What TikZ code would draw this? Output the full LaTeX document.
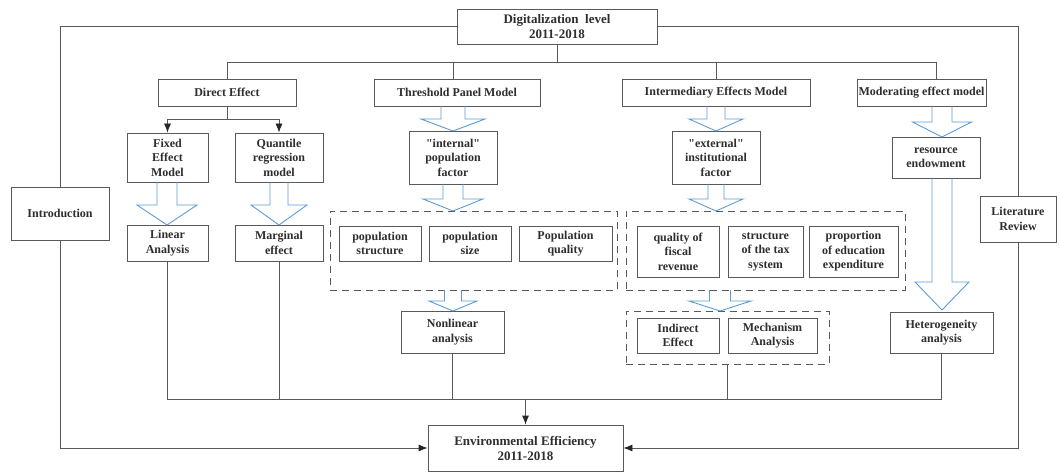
\documentclass[tikz,border=0pt]{standalone}
\usepackage{fontspec}
\setmainfont{Liberation Serif}
\usetikzlibrary{arrows.meta}
\definecolor{linec}{HTML}{595959}
\definecolor{textc}{HTML}{2E2E2E}
\definecolor{bluec}{HTML}{5B9BD5}
\tikzset{
  box/.style={draw=linec, line width=0.8pt, fill=white, align=center, inner sep=1pt,
    font=\bfseries\fontsize{12}{14.5}\selectfont, text=textc},
  bigbox/.style={box, font=\bfseries\fontsize{13}{15}\selectfont},
  dbox/.style={draw=linec, line width=0.8pt, dash pattern=on 7pt off 5pt},
  conn/.style={draw=linec, line width=0.8pt},
  tip/.style={conn, -{Latex[length=9pt,width=7pt,color=black!85]}},
  barrow/.style={draw=bluec, line width=0.9pt, line join=miter}
}
% hollow arrow: x, top, head start, tip, shaft half width, head half width
\newcommand\hollowarrow[6]{%
  \draw[barrow] ({#1-#5},#2) -- ({#1-#5},#3) -- ({#1-#6},#3) -- (#1,#4)
    -- ({#1+#6},#3) -- ({#1+#5},#3) -- ({#1+#5},#2);}
\begin{document}
\begin{tikzpicture}[x=1pt,y=-1pt]
\useasboundingbox (0,0) rectangle (1060,473);

% main nodes
\node[bigbox, minimum width=200pt, minimum height=35pt] (dig) at (557,26.5) {Digitalization\ \ level\\2011-2018};
\node[box, minimum width=98pt, minimum height=53pt] (intro) at (60,213.5) {Introduction};
\node[box, minimum width=76pt, minimum height=46pt] (lit) at (1018,219) {Literature\\Review};
\node[bigbox, minimum width=195pt, minimum height=46pt] (env) at (525.5,448) {Environmental Efficiency\\2011-2018};

\node[box, minimum width=138pt, minimum height=27pt] (de) at (227,92.5) {Direct Effect};
\node[box, minimum width=166pt, minimum height=27pt] (tp) at (457,92.5) {Threshold Panel Model};
\node[box, minimum width=188pt, minimum height=27pt] (im) at (716,92.5) {Intermediary Effects Model};
\node[box, minimum width=129pt, minimum height=27pt] (mm) at (921.5,92.5) {Moderating effect model};

\node[box, minimum width=81pt, minimum height=49pt] (fem) at (167.5,157.5) {Fixed\\Effect\\Model};
\node[box, minimum width=88pt, minimum height=49pt] (qrm) at (279,157.5) {Quantile\\regression\\model};
\node[box, minimum width=81pt, minimum height=36pt] (lin) at (167.5,243) {Linear\\Analysis};
\node[box, minimum width=88pt, minimum height=36pt] (mar) at (279,243) {Marginal\\effect};

\node[box, minimum width=88pt, minimum height=53pt] (ipf) at (453,157.5) {\textquotedbl internal\textquotedbl\\population\\factor};
\node[dbox, minimum width=287pt, minimum height=79pt] (d1) at (473.5,250.5) {};
\node[box, minimum width=82pt, minimum height=35pt] (ps) at (380,243.5) {population\\structure};
\node[box, minimum width=82pt, minimum height=35pt] (psz) at (470,243.5) {population\\size};
\node[box, minimum width=93pt, minimum height=35pt] (pq) at (565.5,243.5) {Population\\quality};
\node[box, minimum width=103pt, minimum height=42pt] (nla) at (452.5,332) {Nonlinear\\analysis};

\node[box, minimum width=88pt, minimum height=53pt] (eif) at (716,157.5) {\textquotedbl external\textquotedbl\\institutional\\factor};
\node[dbox, minimum width=279pt, minimum height=79pt] (d2) at (765.5,250.5) {};
\node[box, minimum width=82pt, minimum height=51pt] (qfr) at (678,251.5) {quality of\\fiscal\\revenue};
\node[box, minimum width=75pt, minimum height=51pt] (stx) at (765.5,251.5) {structure\\of the tax\\system};
\node[box, minimum width=89pt, minimum height=51pt] (pee) at (853.5,251.5) {proportion\\of education\\expenditure};
\node[dbox, minimum width=203pt, minimum height=53pt] (d3) at (727.5,337.5) {};
\node[box, minimum width=82pt, minimum height=35pt] (ie) at (678,335.5) {Indirect\\Effect};
\node[box, minimum width=89pt, minimum height=35pt] (ma) at (772.5,335.5) {Mechanism\\Analysis};

\node[box, minimum width=88pt, minimum height=41pt] (res) at (936,157.5) {resource\\endowment};
\node[box, minimum width=103pt, minimum height=41pt] (het) at (941.5,332.5) {Heterogeneity\\analysis};

% outer connectors
\draw[conn] (dig.west) -| (intro.north);
\draw[tip] (intro.south) |- (env.west);
\draw[conn] (dig.east) -| (lit.north);
\draw[tip] (lit.south) |- (env.east);

% top bus
\coordinate (tb) at (0,62);
\draw[conn] (dig.south) -- (dig.south |- tb);
\draw[conn] (de.north) -- (de.north |- tb) -- (res.north |- tb) -- (res.north |- mm.north);
\draw[conn] (tp.north -| 453,0) -- (453,62);
\draw[conn] (im.north) -- (im.north |- tb);

% direct effect split
\draw[conn] (de.south) -- ++(0,13) coordinate (ds);
\draw[tip] (ds) -| (fem.north);
\draw[tip] (ds) -| (qrm.north);

% bottom bus
\coordinate (bb) at (0,399);
\draw[conn] (lin.south) -- (lin.south |- bb) -- (het.south |- bb) -- (het.south);
\draw[conn] (mar.south) -- (mar.south |- bb);
\draw[conn] (nla.south) -- (nla.south |- bb);
\draw[conn] (d3.south) -- (d3.south |- bb);
\draw[tip] (env.north |- bb) -- (env.north);

% hollow blue arrows
\hollowarrow{167}{182}{205}{225}{10}{30}
\hollowarrow{279}{182}{205}{225}{9}{28}
\hollowarrow{453}{106}{119}{131}{12}{32}
\hollowarrow{453}{184}{199}{211}{10}{30}
\hollowarrow{453}{290}{301}{311}{8.5}{24}
\hollowarrow{716}{106}{119}{131}{9}{27}
\hollowarrow{716}{184}{199}{211}{8}{27}
\hollowarrow{720}{290}{301}{311}{10.5}{31}
\hollowarrow{942}{106}{122}{137}{10}{29.5}
\hollowarrow{942}{178}{282}{310}{10}{27}
\end{tikzpicture}
\end{document}
